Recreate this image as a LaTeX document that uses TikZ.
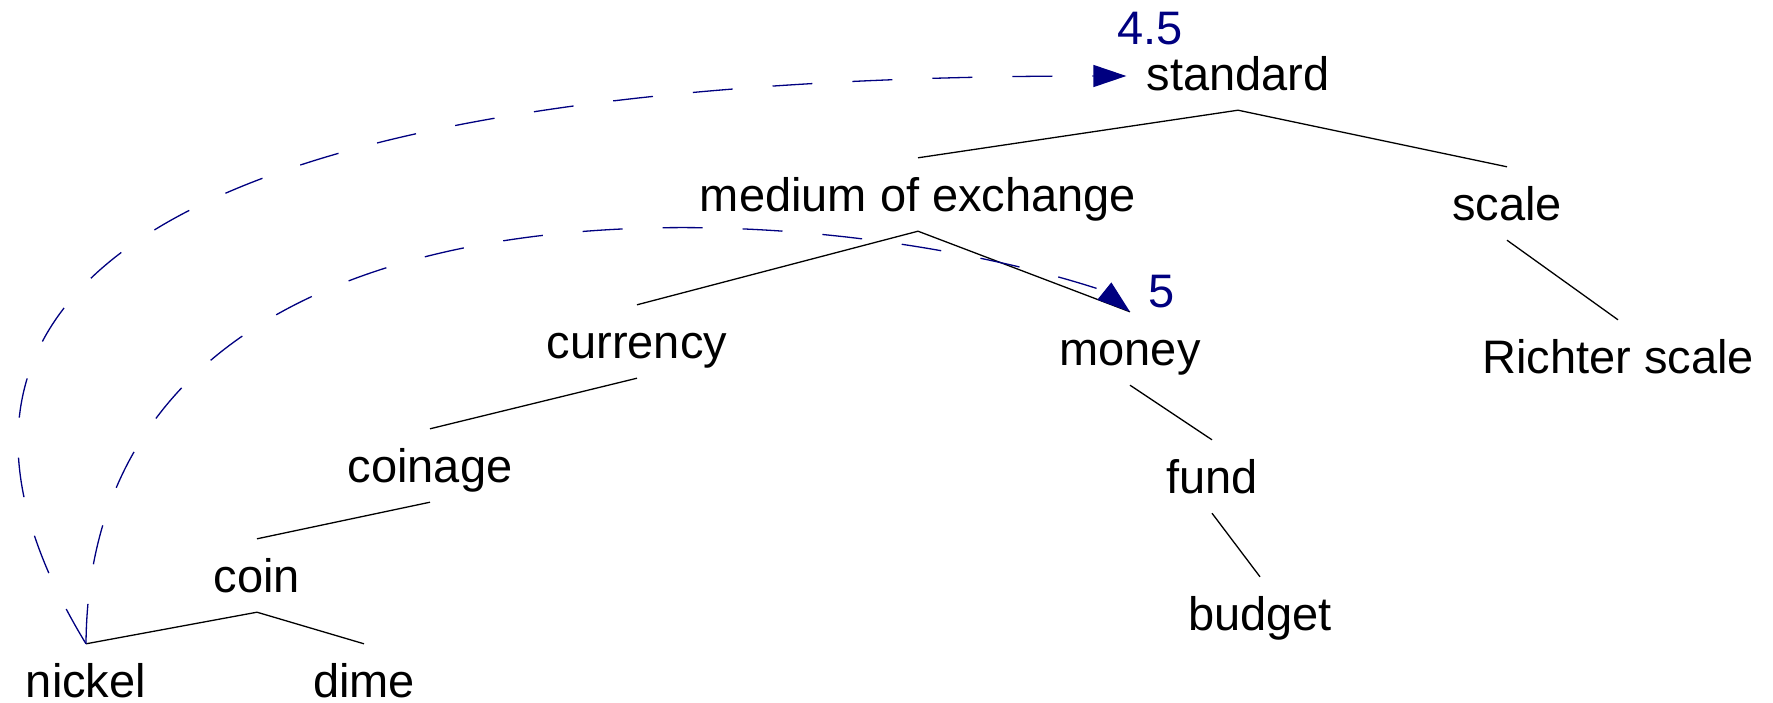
\documentclass[tikz,border=0pt]{standalone}
\usepackage{fontspec}
\setmainfont{Liberation Sans}
\usetikzlibrary{arrows.meta,calc}
\definecolor{navy}{RGB}{0,0,128}
\begin{document}
\begin{tikzpicture}[x=1pt,y=-1pt,
  word/.style={anchor=base,inner sep=0pt,text height=53pt,text depth=20pt,font=\fontsize{47}{56}\selectfont},
  leaf/.style={word,text depth=0pt},
  branch/.style={line width=1.3pt,black},
  link/.style={navy,line width=1.3pt,dash pattern=on 40pt off 40pt,-{Triangle[length=33pt,width=22pt]}},
  num/.style={anchor=base,inner sep=0pt,text=navy,font=\fontsize{47}{56}\selectfont}]
\useasboundingbox (0,0) rectangle (1773,702);
\node[word] (std) at (1238,90) {standard};
\node[word] (moe) at (918,211) {medium of exchange};
\node[word] (scale) at (1507,220) {scale};
\node[word] (richter) at (1618,373) {Richter scale};
\node[word] (currency) at (637,358) {currency};
\node[word] (money) at (1130,365) {money};
\node[word] (coinage) at (430,482) {coinage};
\node[word] (fund) at (1212,493) {fund};
\node[word] (coin) at (257,592) {coin};
\node[word] (budget) at (1260,630) {budget};
\node[leaf] (nickel) at (86,697) {nickel};
\node[leaf] (dime) at (364,697) {dime};
\node[num] (lab45) at (1150,44) {4.5};
\node[num] (lab5) at (1162,307) {5};
\draw[branch] (moe.north) -- (std.south) -- (scale.north);
\draw[branch] (currency.north) -- (moe.south) -- (money.north);
\draw[branch] (scale.south) -- (richter.north);
\draw[branch] (currency.south) -- (coinage.north);
\draw[branch] (coinage.south) -- (coin.north);
\draw[branch] (nickel.north) -- (coin.south) -- (dime.north);
\draw[branch] (money.south) -- (fund.north);
\draw[branch] (fund.south) -- (budget.north);
\coordinate (stdtip) at ($(std.west)+(-20,2.5)$);
\coordinate (mbase) at ($(money.north)+(-26,-21)$);
\draw[link] (nickel.north) .. controls (-190,190) and (420,76) .. (stdtip);
\draw[link] (nickel.north) .. controls (90,150) and (800,190) .. (mbase) -- (money.north);
\end{tikzpicture}
\end{document}
